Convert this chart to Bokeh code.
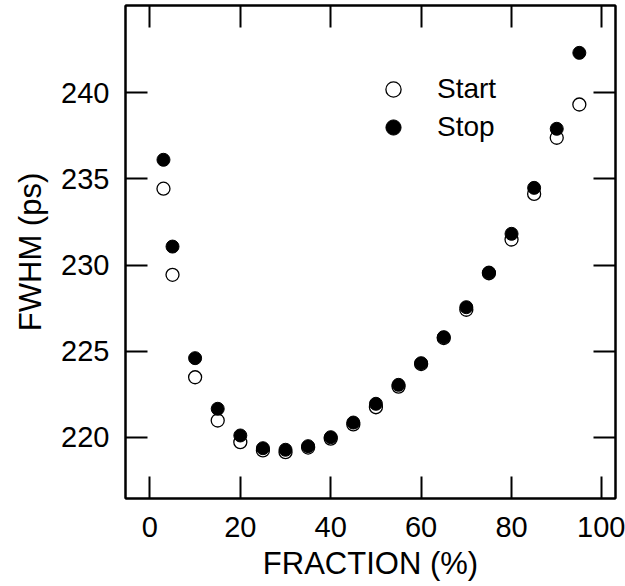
from bokeh.plotting import figure
from bokeh.models import LinearAxis, FixedTicker, Legend, LegendItem, Range1d
from bokeh.embed import file_html
from bokeh.resources import INLINE

fraction = [3, 5, 10, 15, 20, 25, 30, 35, 40, 45, 50, 55, 60, 65, 70, 75, 80, 85, 90, 95]
start_fwhm = [234.43, 229.43, 223.48, 220.97, 219.71, 219.23, 219.13, 219.40, 219.92, 220.74,
              221.74, 222.94, 224.25, 225.76, 227.40, 229.52, 231.48, 234.13, 237.39, 239.32]
stop_fwhm = [236.11, 231.07, 224.59, 221.65, 220.10, 219.36, 219.27, 219.48, 220.00, 220.85,
             221.94, 223.04, 224.30, 225.81, 227.55, 229.56, 231.81, 234.48, 237.91, 242.32]
x_ticks = [0, 20, 40, 60, 80, 100]
y_ticks = [220, 225, 230, 235, 240]

FONT = "Liberation Sans"

p = figure(width=625, height=586, output_backend="svg", toolbar_location=None,
           x_range=Range1d(-5.4, 103.0), y_range=Range1d(216.44, 245.07),
           min_border_left=125, min_border_right=10, min_border_top=5, min_border_bottom=88)
p.xgrid.visible = False
p.ygrid.visible = False
p.outline_line_color = "black"
p.outline_line_width = 2
p.background_fill_color = "white"
p.border_fill_color = "white"

def style_axis(ax, ticks, show_labels):
    ax.ticker = FixedTicker(ticks=ticks)
    ax.major_tick_in = 22
    ax.major_tick_out = 0
    ax.minor_tick_in = 0
    ax.minor_tick_out = 0
    ax.major_tick_line_width = 2
    ax.major_tick_line_color = "black"
    ax.axis_line_width = 2
    ax.axis_line_color = "black"
    if show_labels:
        ax.major_label_text_font = FONT
        ax.major_label_text_font_size = "29px"
        ax.major_label_text_color = "black"
        ax.axis_label_text_font = FONT
        ax.axis_label_text_font_size = "31px"
        ax.axis_label_text_font_style = "normal"
        ax.axis_label_text_color = "black"
    else:
        ax.major_label_text_font_size = "1px"
        ax.major_label_text_color = None
        ax.major_label_standoff = 0
        ax.axis_label = None

style_axis(p.xaxis[0], x_ticks, True)
style_axis(p.yaxis[0], y_ticks, True)
p.xaxis[0].axis_label = "FRACTION (%)"
p.yaxis[0].axis_label = "FWHM (ps)"
p.xaxis[0].major_label_standoff = 18
p.yaxis[0].major_label_standoff = 16
p.xaxis[0].axis_label_standoff = 6
p.yaxis[0].axis_label_standoff = 10

top_ax = LinearAxis()
right_ax = LinearAxis()
style_axis(top_ax, x_ticks, False)
style_axis(right_ax, y_ticks, False)
p.add_layout(top_ax, "above")
p.add_layout(right_ax, "right")

r_start = p.scatter(fraction, start_fwhm, marker="circle", size=13,
                    fill_color="white", line_color="black", line_width=1.3)
r_stop = p.scatter(fraction, stop_fwhm, marker="circle", size=13,
                   fill_color="black", line_color="black", line_width=1)

legend = Legend(items=[LegendItem(label="Start", renderers=[r_start]),
                       LegendItem(label="Stop", renderers=[r_stop])],
                location=(249, 352), glyph_width=38, glyph_height=38,
                label_standoff=25, label_text_font=FONT, label_text_font_size="28px",
                label_text_color="black",
                label_height=38, spacing=0, padding=0, margin=0,
                border_line_color=None, background_fill_alpha=0)
p.add_layout(legend, "center")

open("out.html", "w").write(file_html(p, INLINE))
